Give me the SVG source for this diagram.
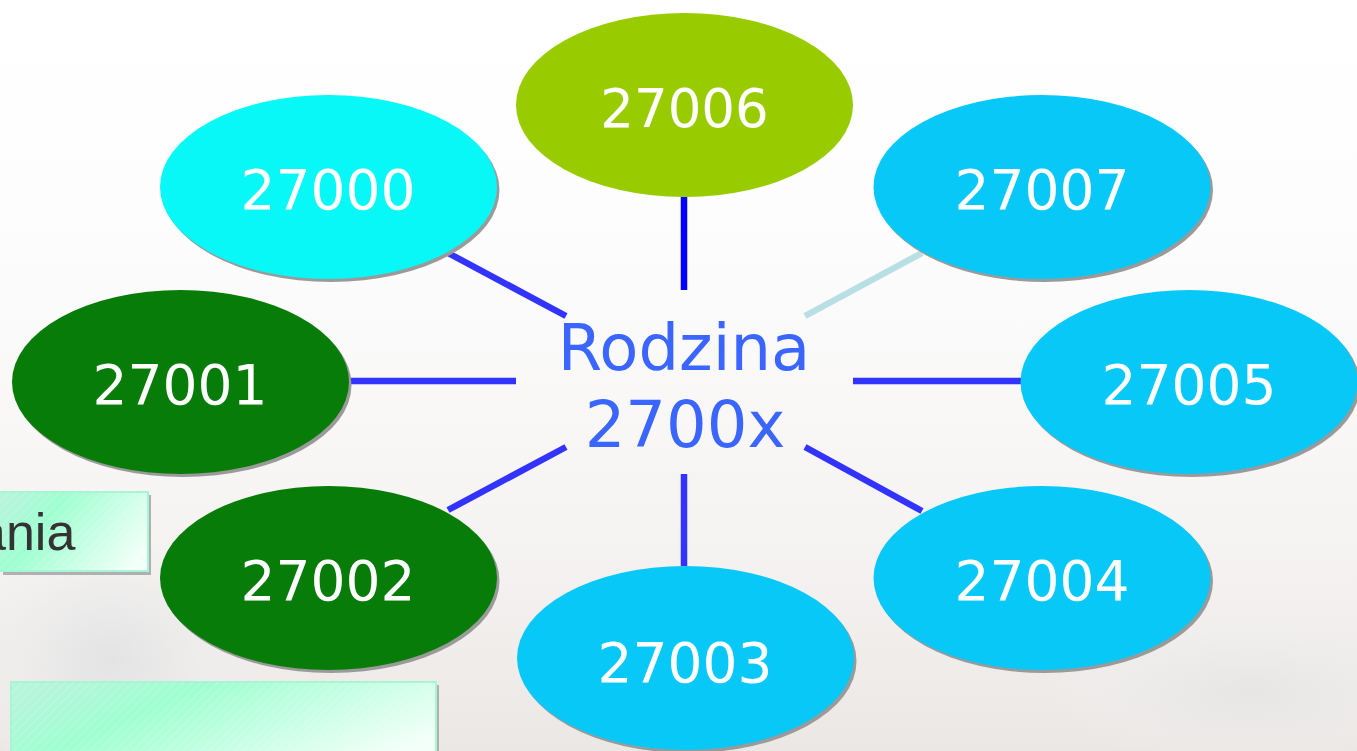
<svg xmlns="http://www.w3.org/2000/svg" width="1357" height="751" viewBox="0 0 1357 751">
<defs>
<linearGradient id="bg" x1="0" y1="0" x2="0" y2="1">
<stop offset="0" stop-color="#ffffff"/>
<stop offset="0.3" stop-color="#fdfdfd"/>
<stop offset="0.7" stop-color="#f6f4f3"/>
<stop offset="1" stop-color="#ebe7e5"/>
</linearGradient>
<radialGradient id="blob" cx="0.5" cy="0.5" r="0.5">
<stop offset="0" stop-color="#e2e2e2" stop-opacity="0.9"/>
<stop offset="0.6" stop-color="#ececec" stop-opacity="0.6"/>
<stop offset="1" stop-color="#f4f4f4" stop-opacity="0"/>
</radialGradient>
<linearGradient id="box" x1="0" y1="0.3" x2="1" y2="0.7">
<stop offset="0" stop-color="#b5f5da"/>
<stop offset="0.3" stop-color="#9effd0"/>
<stop offset="1" stop-color="#f2fff9"/>
</linearGradient>
<pattern id="hatch" width="6" height="6" patternUnits="userSpaceOnUse" patternTransform="rotate(45)">
<line x1="0" y1="0" x2="0" y2="6" stroke="#ffffff" stroke-opacity="0.35" stroke-width="1"/>
</pattern>
<style>
.shadow{fill:#9a9a9a}
.lbl{font-family:"DejaVu Sans",sans-serif;font-size:55px;fill:#ffffff;text-anchor:middle}
.cen{font-family:"DejaVu Sans",sans-serif;font-size:64px;fill:#3a66ff;text-anchor:middle}
.ln{stroke:#3333ff;stroke-width:6.5;fill:none}
.boxr{fill:url(#box);stroke:#a6f5d4;stroke-width:2}
.boxh{fill:url(#hatch)}
.boxs{fill:#b0b0b0}
.cyan{fill:#08c8f8}
.dg{fill:#087c08}
</style>
</defs>
<rect x="0" y="0" width="1357" height="751" fill="url(#bg)"/>
<ellipse cx="110" cy="660" rx="150" ry="130" fill="url(#blob)"/>
<ellipse cx="1250" cy="690" rx="200" ry="80" fill="url(#blob)" opacity="0.6"/>

<g id="box-ania">
<rect x="3" y="495" width="148" height="80" class="boxs"/>
<rect x="-2" y="492" width="150" height="79" class="boxr"/>
<rect x="-2" y="492" width="150" height="79" class="boxh"/>
<text x="-23" y="550" font-family="Liberation Sans, Arial, sans-serif" font-size="52" fill="#333333">ania</text>
</g>
<g id="box-bottom">
<rect x="14" y="685" width="425" height="70" class="boxs"/>
<rect x="11" y="682" width="425" height="75" class="boxr"/>
<rect x="11" y="682" width="425" height="75" class="boxh"/>
</g>

<g id="connectors">
<line x1="684" y1="197" x2="684" y2="290" stroke="#0000ff" stroke-width="6.5"/>
<line x1="805" y1="316" x2="922" y2="253" stroke="#b8e0e4" stroke-width="6.5"/>
<line x1="448" y1="253" x2="566" y2="316" class="ln"/>
<line x1="349" y1="381" x2="516" y2="381" class="ln"/>
<line x1="853" y1="381" x2="1021" y2="381" class="ln"/>
<line x1="566" y1="447" x2="448" y2="510" class="ln"/>
<line x1="684" y1="474" x2="684" y2="566" class="ln"/>
<line x1="805" y1="447" x2="922" y2="511" class="ln"/>
</g>

<g id="center">
<text x="684" y="370" class="cen">Rodzina</text>
<text x="685" y="447" class="cen">2700x</text>
</g>

<g id="n27006">
<ellipse cx="684.5" cy="105" rx="168.5" ry="92" fill="#99cc00"/>
<text x="684.5" y="127" class="lbl" style="font-size:53px">27006</text>
</g>
<g id="n27000">
<ellipse cx="331" cy="190" rx="168.5" ry="92" class="shadow"/>
<ellipse cx="328.5" cy="187" rx="168.5" ry="92" fill="#08f8f8"/>
<text x="328" y="209" class="lbl">27000</text>
</g>
<g id="n27007">
<ellipse cx="1044.5" cy="190" rx="168.5" ry="92" class="shadow"/>
<ellipse cx="1042" cy="187" rx="168.5" ry="92" class="cyan"/>
<text x="1042" y="209" class="lbl">27007</text>
</g>
<g id="n27001">
<ellipse cx="183" cy="385" rx="168.5" ry="92" class="shadow"/>
<ellipse cx="180.5" cy="382" rx="168.5" ry="92" class="dg"/>
<text x="180" y="404" class="lbl">27001</text>
</g>
<g id="n27005">
<ellipse cx="1191.5" cy="385" rx="168.5" ry="92" class="shadow"/>
<ellipse cx="1189" cy="382" rx="168.5" ry="92" class="cyan"/>
<text x="1189" y="404" class="lbl">27005</text>
</g>
<g id="n27002">
<ellipse cx="331" cy="581" rx="168.5" ry="92" class="shadow"/>
<ellipse cx="328.5" cy="578" rx="168.5" ry="92" class="dg"/>
<text x="328" y="600" class="lbl">27002</text>
</g>
<g id="n27004">
<ellipse cx="1044.5" cy="581" rx="168.5" ry="92" class="shadow"/>
<ellipse cx="1042" cy="578" rx="168.5" ry="92" class="cyan"/>
<text x="1042" y="600" class="lbl">27004</text>
</g>
<g id="n27003">
<ellipse cx="688" cy="661" rx="168.5" ry="92" class="shadow"/>
<ellipse cx="685.5" cy="658" rx="168.5" ry="92" class="cyan"/>
<text x="685" y="682" class="lbl">27003</text>
</g>
</svg>
